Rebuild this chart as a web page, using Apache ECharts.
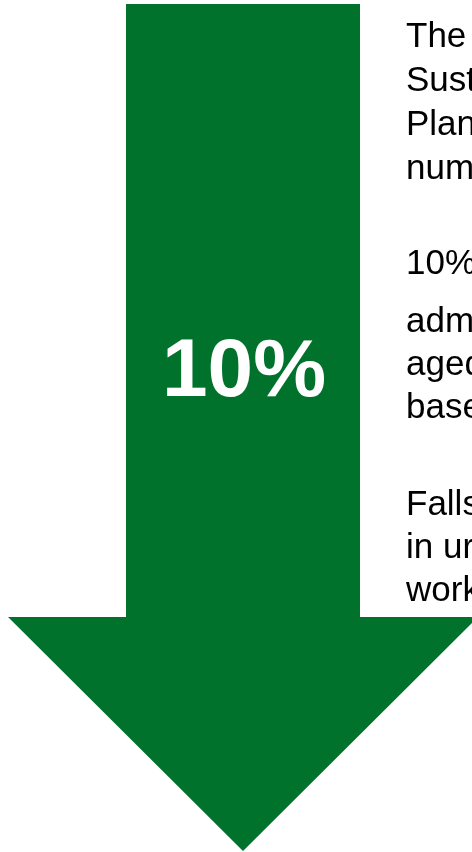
<!DOCTYPE html>
<html>
<head>
<meta charset="utf-8">
<script src="https://cdn.jsdelivr.net/npm/echarts@6/dist/echarts.min.js"></script>
<style>
html,body{margin:0;padding:0;background:#fff;}
#chart{width:472px;height:852px;}
</style>
</head>
<body>
<div id="chart"></div>
<script>
// Headline value shown inside the arrow
var headlineValue = ['10%'];
// Side text lines (clipped by the picture's right edge)
var sideLines = ['The', 'Sust', 'Plan', 'num', '10%', 'adm', 'aged', 'base', 'Falls', 'in ur', 'work'];
var sideLineBaseline = [49, 93, 137, 181, 276, 334, 377, 420, 517, 560, 603];

var chart = echarts.init(document.getElementById('chart'), null, {renderer: 'canvas'});
var green = '#00722C';
var sideFont = 35;

var graphics = [];
// arrow shape
graphics.push({
  type: 'polygon',
  shape: {
    points: [[126, 4], [360, 4], [360, 617], [478, 617], [243, 851], [8, 617], [126, 617]]
  },
  style: {fill: green}
});
graphics.push({
  type: 'text',
  x: 244, y: 373,
  style: {
    text: headlineValue[0],
    fill: '#ffffff',
    font: 'bold 82px "Liberation Sans", Arial, sans-serif',
    align: 'center',
    verticalAlign: 'middle'
  }
});
for (var i = 0; i < sideLines.length; i++) {
  graphics.push({
    type: 'text',
    x: 406, y: sideLineBaseline[i] - Math.round(sideFont * 0.34),
    style: {
      text: sideLines[i],
      fill: '#000000',
      font: sideFont + 'px "Liberation Sans", Arial, sans-serif',
      align: 'left',
      verticalAlign: 'middle'
    }
  });
}

chart.setOption({
  animation: false,
  backgroundColor: '#ffffff',
  graphic: graphics
});
</script>
</body>
</html>
